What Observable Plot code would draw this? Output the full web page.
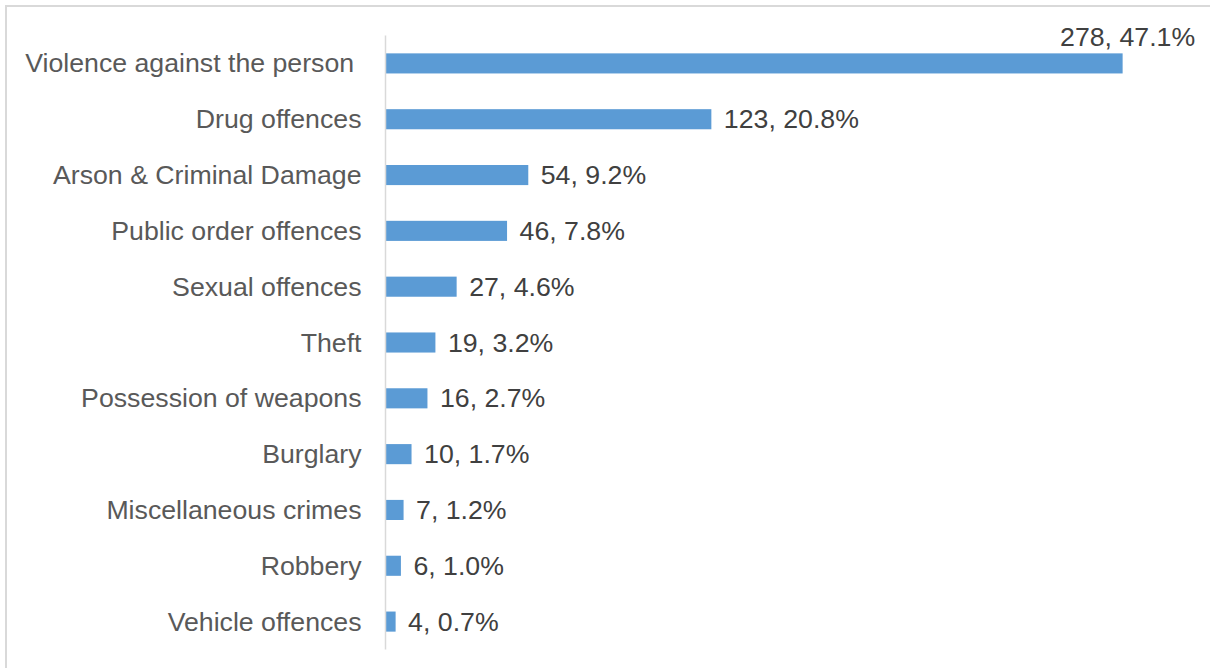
<!DOCTYPE html>
<html>
<head>
<meta charset="utf-8">
<script src="https://cdn.jsdelivr.net/npm/d3@7"></script>
<script src="https://cdn.jsdelivr.net/npm/@observablehq/plot@0.6"></script>
<style>
  html, body { margin: 0; padding: 0; background: #fff; }
  #wrap { position: relative; width: 1210px; height: 668px; overflow: hidden; }
  #frame { position: absolute; left: 5px; top: 5px; right: -10px; bottom: -10px;
           border-left: 2px solid #d9d9d9; border-top: 2px solid #d9d9d9; pointer-events: none; }
  svg { font-family: "Liberation Sans", Arial, sans-serif; }
</style>
</head>
<body>
<div id="wrap"><div id="frame"></div></div>
<script>
const categories = ["Violence against the person","Drug offences","Arson & Criminal Damage","Public order offences","Sexual offences","Theft","Possession of weapons","Burglary","Miscellaneous crimes","Robbery","Vehicle offences"];
const counts = [278,123,54,46,27,19,16,10,7,6,4];
const percents = ["47.1%","20.8%","9.2%","7.8%","4.6%","3.2%","2.7%","1.7%","1.2%","1.0%","0.7%"];

const rows = categories.map((c, i) => ({category: c, count: counts[i], label: `${counts[i]}, ${percents[i]}`}));
const firstRow = rows.slice(0, 1);
const otherRows = rows.slice(1);

const chart = Plot.plot({
  width: 1210,
  height: 668,
  marginLeft: 385,
  marginRight: 29,
  marginTop: 35.5,
  marginBottom: 18.5,
  style: {fontFamily: "Liberation Sans, Arial, sans-serif", background: "transparent"},
  x: {domain: [0, 300], axis: null},
  y: {domain: categories, paddingInner: 0.64, paddingOuter: 0.32, round: false, label: null, axis: null},
  marks: [
    Plot.barX(rows, {x: "count", y: "category", fill: "#5b9bd5"}),
    Plot.axisY({tickSize: 0, tickPadding: 24, fontSize: 26.7, color: "#595959", label: null,
                tickFormat: d => d === categories[0] ? d + "\u00a0" : d}),
    Plot.ruleX([0], {stroke: "#d9d9d9", strokeWidth: 1.5}),
    Plot.text(otherRows, {x: "count", y: "category", text: "label", textAnchor: "start", dx: 12, fontSize: 26.7, fill: "#404040"}),
    Plot.text(firstRow, {x: "count", y: "category", text: "label", textAnchor: "end", dx: 72, dy: -26, fontSize: 26.7, fill: "#404040"})
  ]
});
chart.style.position = "absolute";
chart.style.left = "0px";
chart.style.top = "0px";
document.getElementById("wrap").appendChild(chart);
</script>
</body>
</html>
